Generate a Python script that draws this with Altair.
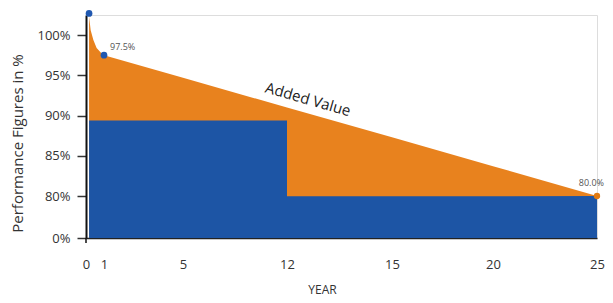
import altair as alt
import pandas as pd

# Year ticks and their (non-linear) placement along the axis
year_ticks = [0, 1, 5, 12, 15, 20, 25]
year_pixels = [0, 18, 97, 201, 306, 407, 511]

# Percent axis (broken: 0% then 80..100%)
pct_ticks = [0, 80, 85, 90, 95, 100]

# Orange "total performance" curve
orange_x = [0.17, 0.26, 0.41, 0.59, 0.87, 1, 5, 12, 15, 20, 25]
orange_y = [102.3, 100.6, 99.4, 98.4, 97.7, 97.5, 94.7, 91.0, 87.3, 83.7, 80.0]

# Blue "guaranteed" step: first block, then second segment
blue1_x = [0.17, 12]
blue1_y = [89.4, 89.4]
blue2_x = [12, 25]
blue2_y = [79.4, 79.8]

# Marker points
blue_pts_x = [0.17, 1]
blue_pts_y = [102.7, 97.5]
orange_pt_x = [25]
orange_pt_y = [80.0]

# Labels
pt_labels = ["97.5%", "80.0%"]
pt_label_x = [1, 25]
pt_label_y = [97.5, 80.0]
added_x = [12.6]
added_y = [92.0]
added_text = ["Added Value"]

ORANGE = "#E8821E"
BLUE = "#1D55A5"
FONT = "Open Sans"

W, H = 511, 223

xs = alt.Scale(domain=year_ticks, range=year_pixels, nice=False, zero=False)
ys = alt.Scale(domain=[0, 80, 102.5], range=[H, H - 42, 0], nice=False, zero=False)

orange_df = pd.DataFrame({"x": orange_x, "v": orange_y, "b": 0})
blue1_df = pd.DataFrame({"x": blue1_x[:1], "x2": blue1_x[1:], "v": blue1_y[:1], "b": 0})
blue2_df = pd.DataFrame({"x": blue2_x, "v": blue2_y, "b": 0})

x_enc = alt.X("x:Q", scale=xs, axis=alt.Axis(
    values=year_ticks, title="YEAR", ticks=False, grid=False, labelFlush=False,
    labelFont=FONT, labelFontSize=13, labelColor="#333", labelPadding=20,
    domainColor="#222", domainWidth=1.5,
    titleFont=FONT, titleFontSize=12, titleFontWeight="normal", titleColor="#333",
    titleX=236, titleY=51, titleBaseline="middle", titleAlign="center",
))
y_enc = alt.Y("v:Q", scale=ys, stack=None, axis=alt.Axis(
    values=pct_ticks, labelExpr="datum.value + '%'", grid=False,
    tickSize=9, tickColor="#333", tickWidth=1.5,
    labelFont=FONT, labelFontSize=13, labelColor="#333", labelPadding=7,
    domainColor="#111", domainWidth=2,
    title="Performance Figures in %", titleFont=FONT, titleFontSize=15,
    titleFontWeight="normal", titleColor="#333", titleAngle=270,
    titleX=-69, titleY=128, titleAlign="center", titleBaseline="middle",
))

orange_area = alt.Chart(orange_df).mark_area(color=ORANGE, opacity=1).encode(
    x=x_enc, y=y_enc, y2="b:Q"
)
blue_rect = alt.Chart(blue1_df).mark_rect(color=BLUE, opacity=1).encode(
    x=alt.X("x:Q", scale=xs), x2="x2:Q",
    y=alt.Y("v:Q", scale=ys, stack=None), y2="b:Q",
)
blue_area = alt.Chart(blue2_df).mark_area(color=BLUE, opacity=1).encode(
    x=alt.X("x:Q", scale=xs), y=alt.Y("v:Q", scale=ys, stack=None), y2="b:Q",
)

zero_tick = alt.Chart(pd.DataFrame({"x": [0]})).mark_rule(color="#111", strokeWidth=1.5).encode(
    x=alt.X("x:Q", scale=xs), y=alt.value(H), y2=alt.value(H + 5)
)

blue_pts = alt.Chart(pd.DataFrame({"x": blue_pts_x, "v": blue_pts_y})).mark_point(
    filled=True, color="#2058B0", size=45, opacity=1
).encode(x=alt.X("x:Q", scale=xs), y=alt.Y("v:Q", scale=ys))

orange_pts = alt.Chart(pd.DataFrame({"x": orange_pt_x, "v": orange_pt_y})).mark_point(
    filled=True, color="#E07A12", size=40, opacity=1
).encode(x=alt.X("x:Q", scale=xs), y=alt.Y("v:Q", scale=ys))

lbl1 = alt.Chart(pd.DataFrame({"x": pt_label_x[:1], "v": pt_label_y[:1], "t": pt_labels[:1]})).mark_text(
    font=FONT, fontSize=9, color="#555", align="left", baseline="middle", dx=6, dy=-8
).encode(x=alt.X("x:Q", scale=xs), y=alt.Y("v:Q", scale=ys), text="t:N")

lbl2 = alt.Chart(pd.DataFrame({"x": pt_label_x[1:], "v": pt_label_y[1:], "t": pt_labels[1:]})).mark_text(
    font=FONT, fontSize=9, color="#555", align="right", baseline="middle", dx=7, dy=-13
).encode(x=alt.X("x:Q", scale=xs), y=alt.Y("v:Q", scale=ys), text="t:N")

added = alt.Chart(pd.DataFrame({"x": added_x, "v": added_y, "t": added_text})).mark_text(
    font=FONT, fontSize=15, color="#222", align="center", baseline="middle", angle=16
).encode(x=alt.X("x:Q", scale=xs), y=alt.Y("v:Q", scale=ys), text="t:N")

chart = alt.layer(
    orange_area, blue_rect, blue_area, zero_tick, blue_pts, orange_pts, lbl1, lbl2, added
).properties(
    width=W, height=H,
    autosize=alt.AutoSizeParams(type="none"),
    padding={"left": 78, "top": 7, "right": 8, "bottom": 58},
).configure_view(stroke=None).configure(background="white")

chart.save("out.html", embed_options={"renderer": "svg", "actions": False})
